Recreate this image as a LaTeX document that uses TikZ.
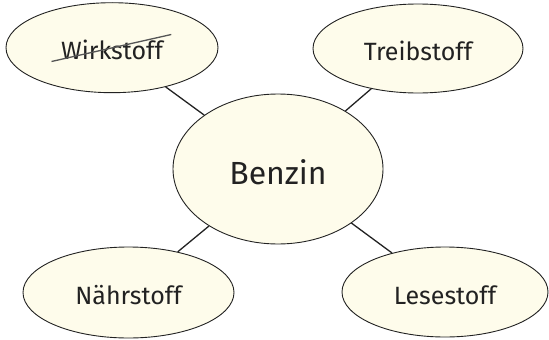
\documentclass[tikz,border=0pt]{standalone}
\usepackage{fontspec}
\setmainfont{Fira Sans}
\usetikzlibrary{shapes.geometric}
\definecolor{cream}{HTML}{FEFCEB}
\definecolor{ink}{HTML}{222222}
\definecolor{strikegray}{HTML}{555555}
\begin{document}
\begin{tikzpicture}[x=1pt,y=-1pt,
  bubble/.style={ellipse, draw=ink, line width=0.9pt, fill=cream, inner sep=0pt,
    text=ink, font=\fontsize{25}{30}\selectfont, text height=24pt, text depth=0pt},
  bigbubble/.style={bubble, font=\fontsize{32}{38}\selectfont, text height=30pt},
  link/.style={draw=ink, line width=1.3pt},
  strike/.style={draw=strikegray, line width=1.3pt}]
\useasboundingbox (0,0) rectangle (549,340);
\node[bubble, minimum width=212, minimum height=90] (w) at (112,47.7) {Wirkstoff};
\node[bubble, minimum width=210, minimum height=89] (t) at (418,48.5) {Treibstoff};
\node[bigbubble, minimum width=210, minimum height=150] (b) at (278,169) {Benzin};
\node[bubble, minimum width=211, minimum height=91] (n) at (128.5,292.5) {Nährstoff};
\node[bubble, minimum width=206, minimum height=90] (l) at (445,292) {Lesestoff};
\draw[link] (w) -- (b);
\draw[link] (t) -- (b);
\draw[link] (n) -- (b);
\draw[link] (l) -- (b);
\draw[strike] ([shift={(-60.5,13.8)}]w.center) -- ([shift={(59.3,-13.2)}]w.center);
\end{tikzpicture}
\end{document}
